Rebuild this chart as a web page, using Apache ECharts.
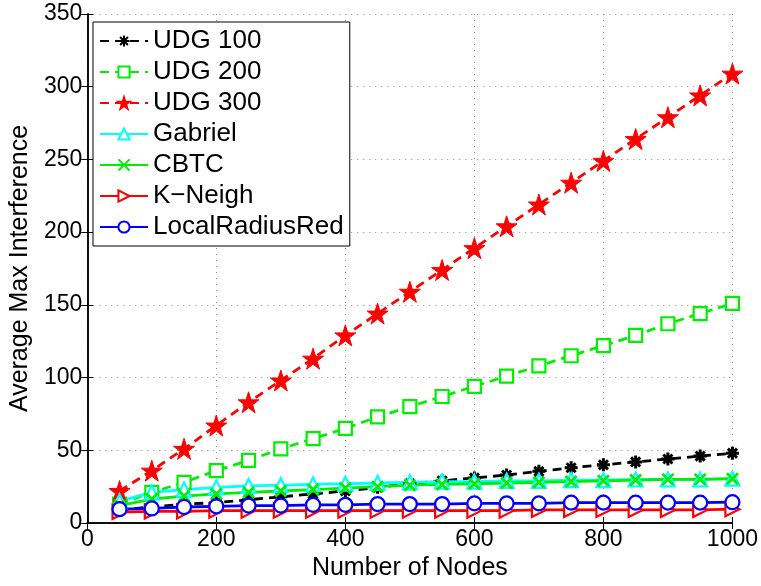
<!DOCTYPE html>
<html><head><meta charset="utf-8">
<script src="https://cdn.jsdelivr.net/npm/echarts@6/dist/echarts.min.js"></script>
<style>html,body{margin:0;padding:0;background:#fff}#c{width:761px;height:586px}</style>
</head><body><div id="c"></div>
<script>
const nodes = [50,100,150,200,250,300,350,400,450,500,550,600,650,700,750,800,850,900,950,1000];
const udg100 = [9,11,13,14,16,18,20,22,24.5,27,29,31,33,35.5,38,40,42,44,46,48];
const udg200 = [13,21,28,36,43,51,58,65,73,80,87,94,101,108,115,122,129,137,144,151];
const udg300 = [22,36,51,67,83,98,113,129,144,159,174,189,204,219,234,249,264,279,294,309];
const gabriel = [15,21,23,24.5,25.5,26,26.5,27,27.5,28,28.5,28.5,29,29,29.5,29.5,30,30,30,30.5];
const cbtc = [12,16.5,18.5,20,21,22,23,24,25,26,26.5,27,27.5,28,28.5,29,29.5,30,30,30.5];
const kneigh = [7.5,8,8,8.5,8.5,8.5,8.5,8.5,8.5,8.5,8.5,8.5,8.5,9,9,9,9,9,9,9.5];
const localRR = [9.5,10,11,11.5,12,12,12.5,12.5,13,13,13,13.5,13.5,13.5,14,14,14,14,14,14.3];
const xTicks = [0,200,400,600,800,1000];
const yTicks = [0,50,100,150,200,250,300,350];

const FONT = 'Liberation Sans';
const star = 'path://M50,0 L61.2,34.5 L97.6,34.5 L68.2,55.9 L79.4,90.5 L50,69.1 L20.6,90.5 L31.8,55.9 L2.4,34.5 L38.8,34.5 Z';
const asterisk = 'path://M50,0 L50,100 M0,50 L100,50 M15,15 L85,85 M85,15 L15,85';
const xmark = 'path://M10,10 L90,90 M90,10 L10,90';
const pair = a => a.map((v,i)=>[nodes[i], v]);

function mk(name, data, color, symbol, opts) {
  return Object.assign({
    name, type:'line', data: pair(data), symbol, symbolSize: 12,
    xAxisIndex:0, yAxisIndex:0,
    lineStyle:{color, width:2.8, type:'solid'},
    itemStyle:{color:'#fff', borderColor:color, borderWidth:2.2},
    emphasis:{disabled:true}, animation:false, z: 3
  }, opts||{});
}

const series = [
  mk('UDG 100', udg100, '#000', asterisk, {lineStyle:{color:'#000',width:2.8,type:[9,6]}, itemStyle:{color:'#000',borderColor:'#000',borderWidth:3}, symbolSize:13}),
  mk('UDG 200', udg200, '#00ee00', 'rect', {lineStyle:{color:'#00ee00',width:2.8,type:[9,6]}, symbolSize:13}),
  mk('UDG 300', udg300, '#ff0000', star, {lineStyle:{color:'#ff0000',width:2.8,type:[9,6]}, itemStyle:{color:'#ff0000',borderColor:'#ff0000',borderWidth:1}, symbolSize:21}),
  mk('Gabriel', gabriel, '#00ffff', 'triangle', {symbolSize:14}),
  mk('CBTC', cbtc, '#00ee00', xmark, {itemStyle:{color:'#00ee00',borderColor:'#00ee00',borderWidth:2.8}, symbolSize:11}),
  mk('K\u2212Neigh', kneigh, '#ff0000', 'triangle', {symbolRotate:-90, symbolSize:14}),
  mk('LocalRadiusRed', localRR, '#0000ff', 'circle', {symbolSize:14}),
];

const chart = echarts.init(document.getElementById('c'), null, {renderer:'canvas'});
chart.setOption({
  backgroundColor:'#fff',
  animation:false,
  grid:{left:85, right:26, top:14, bottom:59, containLabel:false},
  legend:{
    left:93, top:22, orient:'vertical',
    backgroundColor:'#fff', borderColor:'#000', borderWidth:1,
    padding:[6,6,6,6], itemGap:5, itemWidth:48, itemHeight:14,
    textStyle:{fontFamily:FONT, fontSize:26, color:'#000'},
    data: series.map(s=>s.name)
  },
  xAxis:[{
    type:'value', min:0, max:1000, interval:200,
    name:'Number of Nodes', nameLocation:'middle', nameGap:33,
    nameTextStyle:{fontFamily:FONT, fontSize:25, color:'#000'},
    axisLine:{show:true, lineStyle:{color:'#000', width:1.5}},
    axisTick:{show:true, inside:true, length:6, lineStyle:{color:'#000'}},
    axisLabel:{fontFamily:FONT, fontSize:23, color:'#000', margin:5, formatter: v => String(v)},
    splitLine:{show:true, lineStyle:{color:'#888', type:[1,5], width:1}}
  },{
    type:'value', min:0, max:1000, interval:200, position:'top',
    axisLine:{show:true, lineStyle:{color:'#000', width:1.5}},
    axisTick:{show:true, inside:true, length:6, lineStyle:{color:'#000'}},
    axisLabel:{show:false}, splitLine:{show:false}
  }],
  yAxis:[{
    type:'value', min:0, max:350, interval:50,
    name:'Average Max Interference', nameLocation:'middle', nameGap:46,
    nameTextStyle:{fontFamily:FONT, fontSize:25, color:'#000'},
    axisLine:{show:true, lineStyle:{color:'#000', width:1.5}},
    axisTick:{show:true, inside:true, length:6, lineStyle:{color:'#000'}},
    axisLabel:{fontFamily:FONT, fontSize:23, color:'#000', margin:5},
    splitLine:{show:true, lineStyle:{color:'#888', type:[1,5], width:1}}
  },{
    type:'value', min:0, max:350, interval:50, position:'right',
    axisLine:{show:true, lineStyle:{color:'#000', width:1.5}},
    axisTick:{show:true, inside:true, length:6, lineStyle:{color:'#000'}},
    axisLabel:{show:false}, splitLine:{show:false}
  }],
  series
});
</script></body></html>
